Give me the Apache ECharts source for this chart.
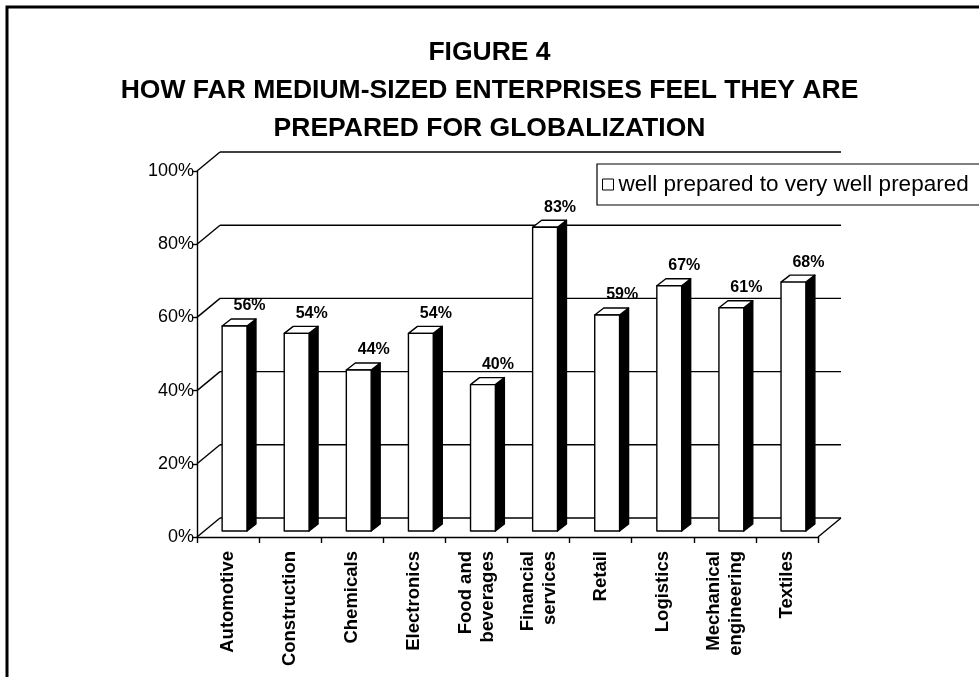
<!DOCTYPE html>
<html>
<head>
<meta charset="utf-8">
<script src="https://cdn.jsdelivr.net/npm/echarts@6/dist/echarts.min.js"></script>
<style>
  html, body { margin: 0; padding: 0; background: #fff; }
  #chart { width: 979px; height: 677px; }
</style>
</head>
<body>
<div id="chart"></div>
<script>
// Survey results by industry
const categories = [
  'Automotive', 'Construction', 'Chemicals', 'Electronics', 'Food and\nbeverages',
  'Financial\nservices', 'Retail', 'Logistics', 'Mechanical\nengineering', 'Textiles'
];
const values = [56, 54, 44, 54, 40, 83, 59, 67, 61, 68];
const gridLevels = [0, 20, 40, 60, 80, 100];
const seriesName = 'well prepared to very well prepared';
const titleLines = [
  'FIGURE 4',
  'HOW FAR MEDIUM-SIZED ENTERPRISES FEEL THEY ARE',
  'PREPARED FOR GLOBALIZATION'
];

const FONT = '"Liberation Sans", Arial, sans-serif';
// Depth of the 3D box (back wall offset) and of each column
const DEPTH_X = 23, DEPTH_Y = -19;
const FRONT_X = 6.5, FRONT_Y = -6;
const BAR_DX = 9, BAR_DY = -7;
const LINE_W = 1.4;

function renderWall(params, api) {
  const cs = params.coordSys;
  const v = api.value(1);
  const y = api.coord([0, v])[1];
  const x0 = cs.x, x1 = cs.x + cs.width;
  const style = { stroke: '#000', lineWidth: LINE_W, fill: null };
  const children = [
    { type: 'line', shape: { x1: x0, y1: y, x2: x0 + DEPTH_X, y2: y + DEPTH_Y }, style },
    { type: 'line', shape: { x1: x0 + DEPTH_X, y1: y + DEPTH_Y, x2: x1 + DEPTH_X, y2: y + DEPTH_Y }, style }
  ];
  if (v === 0) {
    children.push({ type: 'line', shape: { x1: x1, y1: y, x2: x1 + DEPTH_X, y2: y + DEPTH_Y }, style });
  }
  return { type: 'group', children };
}

function renderBar(params, api) {
  const idx = api.value(0);
  const v = api.value(1);
  const base = api.coord([idx, 0]);
  const top = api.coord([idx, v]);
  const bw = api.size([1, 0])[0] * 0.4;
  const xl = base[0] - bw / 2 + FRONT_X;
  const xr = xl + bw;
  const yt = top[1] + FRONT_Y;
  const yb = base[1] + FRONT_Y;
  const stroke = { stroke: '#000', lineWidth: LINE_W, lineJoin: 'round' };
  return {
    type: 'group',
    children: [
      { type: 'polygon', shape: { points: [[xr, yt], [xr + BAR_DX, yt + BAR_DY], [xr + BAR_DX, yb + BAR_DY], [xr, yb]] },
        style: Object.assign({ fill: '#000' }, stroke) },
      { type: 'polygon', shape: { points: [[xl, yt], [xl + BAR_DX, yt + BAR_DY], [xr + BAR_DX, yt + BAR_DY], [xr, yt]] },
        style: Object.assign({ fill: '#fff' }, stroke) },
      { type: 'rect', shape: { x: xl, y: yt, width: bw, height: yb - yt },
        style: Object.assign({ fill: '#fff' }, stroke) },
      { type: 'text', style: {
          text: v + '%', x: base[0] + 21.5, y: top[1] - 26,
          align: 'center', verticalAlign: 'middle',
          font: 'bold 16px ' + FONT, fill: '#000' } }
    ]
  };
}

const chart = echarts.init(document.getElementById('chart'), null, { renderer: 'canvas' });
chart.setOption({
  backgroundColor: '#fff',
  animation: false,
  title: {
    text: titleLines.join('\n'),
    left: 'center',
    top: 29,
    textStyle: { fontFamily: FONT, fontSize: 26.5, fontWeight: 'bold', color: '#000', lineHeight: 38 }
  },
  legend: {
    left: 597,
    top: 164,
    data: [{ name: seriesName, icon: 'rect', itemStyle: { color: '#fff', borderColor: '#000', borderWidth: 1 } }],
    itemWidth: 11,
    itemHeight: 11,
    padding: [9, 12, 9, 5],
    borderColor: '#000',
    borderWidth: 1.2,
    backgroundColor: '#fff',
    textStyle: { fontFamily: FONT, fontSize: 22.5, color: '#000', lineHeight: 22 },
    selectedMode: false
  },
  grid: { left: 197, right: 161, top: 171, bottom: 140 },
  xAxis: {
    type: 'category',
    data: categories,
    axisLine: { lineStyle: { color: '#000', width: LINE_W } },
    axisTick: { show: true, length: 6, lineStyle: { color: '#000', width: LINE_W } },
    axisLabel: {
      interval: 0, rotate: 90, margin: 14,
      fontFamily: FONT, fontSize: 18.5, fontWeight: 'bold', color: '#000', lineHeight: 22
    },
    splitLine: { show: false }
  },
  yAxis: {
    type: 'value',
    min: 0, max: 100, interval: 20,
    axisLine: { show: true, lineStyle: { color: '#000', width: LINE_W } },
    axisTick: { show: true, length: 5, lineStyle: { color: '#000', width: LINE_W } },
    axisLabel: { formatter: '{value}%', margin: 3, fontFamily: FONT, fontSize: 18, color: '#000' },
    splitLine: { show: false }
  },
  graphic: [
    { type: 'rect', silent: true, z: 100,
      shape: { x: 7, y: 7, width: 1200, height: 1200 },
      style: { fill: null, stroke: '#000', lineWidth: 3 } }
  ],
  series: [
    {
      name: 'walls',
      type: 'custom',
      z: 1,
      clip: false,
      silent: true,
      renderItem: renderWall,
      data: gridLevels.map(v => [0, v])
    },
    {
      name: seriesName,
      type: 'custom',
      z: 5,
      clip: false,
      itemStyle: { color: '#fff', borderColor: '#000' },
      renderItem: renderBar,
      data: values.map((v, i) => [i, v])
    }
  ]
});
</script>
</body>
</html>
